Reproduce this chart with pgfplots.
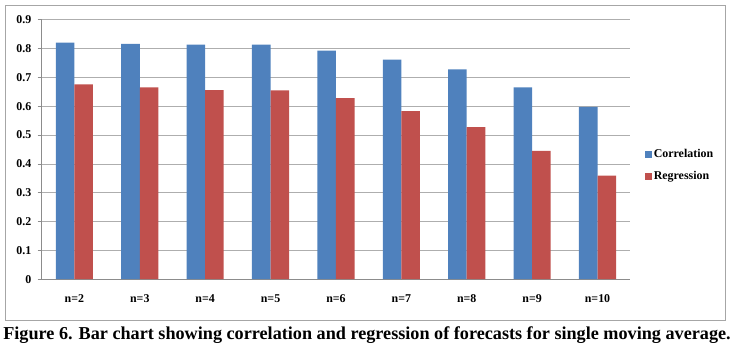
\documentclass[border=0pt]{standalone}
\usepackage{pgfplots}
\pgfplotsset{compat=1.18}
\usepackage{fontspec}
\setmainfont{Liberation Serif}
\definecolor{cblue}{HTML}{4F81BD}
\definecolor{cred}{HTML}{C0504D}
\definecolor{gridc}{HTML}{8C8C8C}
\definecolor{framec}{HTML}{A6A6A6}
\begin{document}
\begin{tikzpicture}[x=1pt,y=1pt]
\path (-39.5,-70) rectangle (694.5,281);
\draw[framec,line width=0.8pt] (-36.5,-41.7) rectangle (688.5,276);
\begin{axis}[
  at={(0,0)}, anchor=south west,
  scale only axis, width=592.5pt, height=261pt,
  ybar=0pt, bar width=18.7pt,
  xmin=-0.5, xmax=8.5, ymin=0, ymax=0.9,
  axis lines=left, axis line style={-,gridc,line width=0.8pt},
  xtick={0,...,8},
  xticklabels={n=2,n=3,n=4,n=5,n=6,n=7,n=8,n=9,n=10},
  x tick style={draw=none},
  extra x ticks={-0.5,0.5,1.5,2.5,3.5,4.5,5.5,6.5,7.5,8.5},
  extra x tick labels={},
  extra x tick style={tick align=outside, major tick length=5pt, tick style={gridc,line width=0.8pt,draw=gridc}, grid=none},
  ytick={0,0.1,...,0.9},
  yticklabels={0,0.1,0.2,0.3,0.4,0.5,0.6,0.7,0.8,0.9},
  y tick style={gridc,line width=0.8pt},
  tick align=outside, major tick length=4pt,
  ymajorgrids, major grid style={gridc!70,line width=0.8pt},
  /pgf/number format/assume math mode=true,
  ticklabel style={font=\bfseries\fontsize{12}{13}\selectfont},
  xticklabel style={yshift=-8pt},
  yticklabel style={xshift=-3pt},
  legend style={at={(1,0.5)}, anchor=west, xshift=15pt, yshift=-16pt, draw=none, fill=none,
    font=\bfseries\fontsize{12}{13}\selectfont, row sep=9pt, inner sep=0pt,
    nodes={inner sep=1.5pt}},
  legend cell align=left,
  legend image code/.code={\fill[#1,draw=none] (0pt,-3.5pt) rectangle (7pt,3.5pt);},
]
\addplot[fill=cblue, draw=none] coordinates {(0,0.821) (1,0.817) (2,0.814) (3,0.814) (4,0.793) (5,0.762) (6,0.728) (7,0.666) (8,0.598)};
\addplot[fill=cred, draw=none] coordinates {(0,0.676) (1,0.666) (2,0.656) (3,0.655) (4,0.628) (5,0.583) (6,0.528) (7,0.445) (8,0.359)};
\legend{Correlation,Regression}
\end{axis}
\node[font=\bfseries\fontsize{18.3}{20}\selectfont, anchor=base] at (327.5,-61) {Figure 6. Bar chart showing correlation and regression of forecasts for single moving average.};
\end{tikzpicture}
\end{document}
